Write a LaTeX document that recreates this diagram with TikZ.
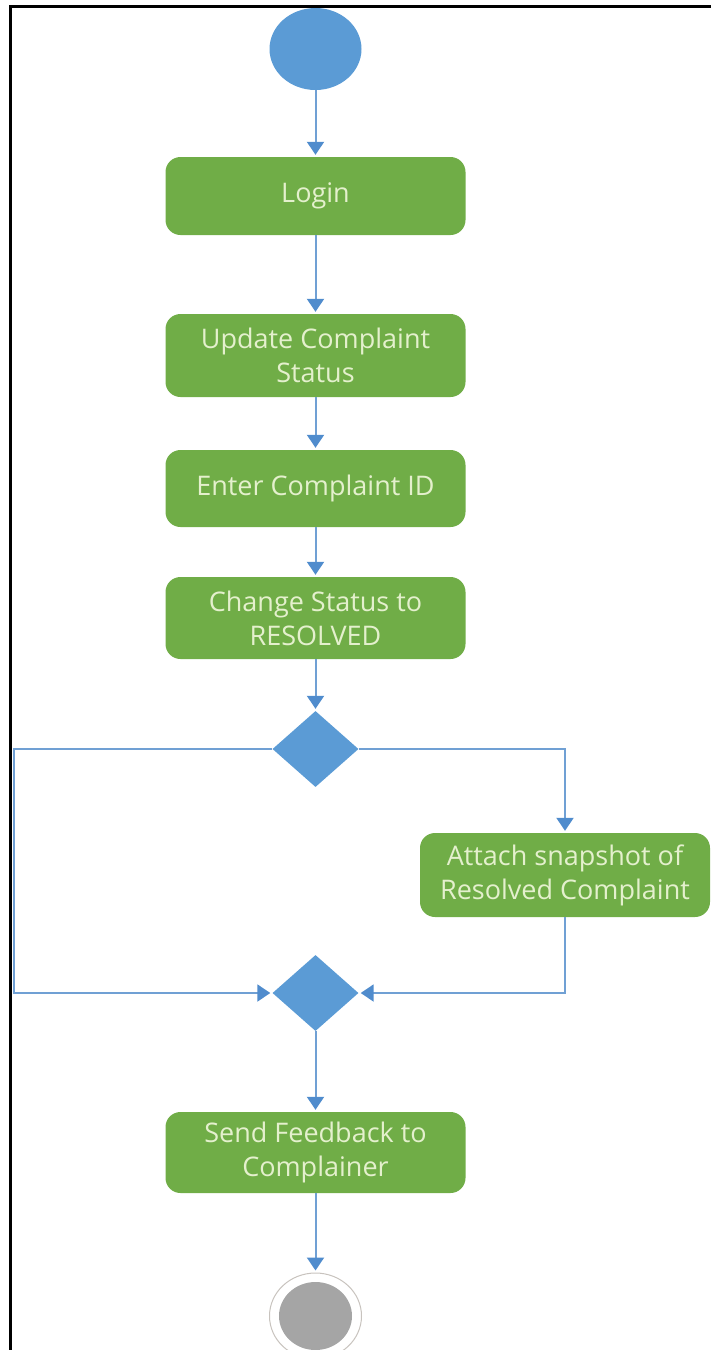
\documentclass[tikz,border=0pt]{standalone}
\usepackage{fontspec}
\setmainfont{Open Sans}
\usetikzlibrary{shapes.geometric,arrows.meta}
\definecolor{flowblue}{RGB}{91,155,213}
\definecolor{linkblue}{RGB}{112,160,212}
\definecolor{tipblue}{RGB}{80,140,205}
\definecolor{actgreen}{RGB}{112,173,71}
\definecolor{acttext}{RGB}{228,240,205}
\definecolor{endgray}{RGB}{165,165,165}
\definecolor{ringgray}{RGB}{200,195,190}
\begin{document}
\begin{tikzpicture}[x=1pt,y=-1pt,
  action/.style={fill=actgreen, rounded corners=15pt, minimum width=300pt,
    text=acttext, align=center, inner sep=0pt,
    font=\fontsize{27}{34}\selectfont},
  decision/.style={diamond, fill=flowblue, inner sep=0pt,
    minimum width=86pt, minimum height=76pt},
  flow/.style={draw=linkblue, line width=2pt,
    -{Triangle[width=17pt,length=13pt,color=tipblue]}, shorten >=2pt}]

\useasboundingbox (0,0) rectangle (710,1350);

% frame
\draw[line width=3pt] (10,1360) -- (10,6) -- (720,6);

% initial state
\node[ellipse, fill=flowblue, inner sep=0pt,
      minimum width=92pt, minimum height=82pt] (start) at (315.5,49) {};

% activities
\node[action, minimum height=78pt] (login)  at (315.5,196)   {Login};
\node[action, minimum height=83pt] (update) at (315.5,355.5) {Update Complaint\\Status};
\node[action, minimum height=77pt] (enter)  at (315.5,488.5) {Enter Complaint ID};
\node[action, minimum height=82pt] (change) at (315.5,618)   {Change Status to\\RESOLVED};

\node[decision] (d1) at (315.5,749) {};

\node[action, minimum width=290pt, minimum height=84pt] (attach) at (565,875)
  {Attach snapshot of\\Resolved Complaint};

\node[decision] (d2) at (315.5,993) {};

\node[action, minimum height=81pt] (send) at (315.5,1152.5) {Send Feedback to\\Complainer};

% final state
\node[ellipse, draw=ringgray, line width=1pt, inner sep=0pt,
      minimum width=92pt, minimum height=86pt] (final) at (315.5,1316) {};
\node[ellipse, fill=endgray, inner sep=0pt,
      minimum width=73pt, minimum height=68pt] (finalcore) at (final.center) {};

% control flow
\coordinate (lft) at (14,0);
\draw[flow] (start) -- (login);
\draw[flow] (login) -- (update);
\draw[flow] (update) -- (enter);
\draw[flow] (enter) -- (change);
\draw[flow] (change) -- (d1);
\draw[flow] (d1.west) -- (d1.west -| lft) -- (d2.west -| lft) -- (d2.west);
\draw[flow] (d1.east) -| (attach.north);
\draw[flow] (attach.south) |- (d2.east);
\draw[flow] (d2) -- (send);
\draw[flow] (send) -- (final);
\end{tikzpicture}
\end{document}
